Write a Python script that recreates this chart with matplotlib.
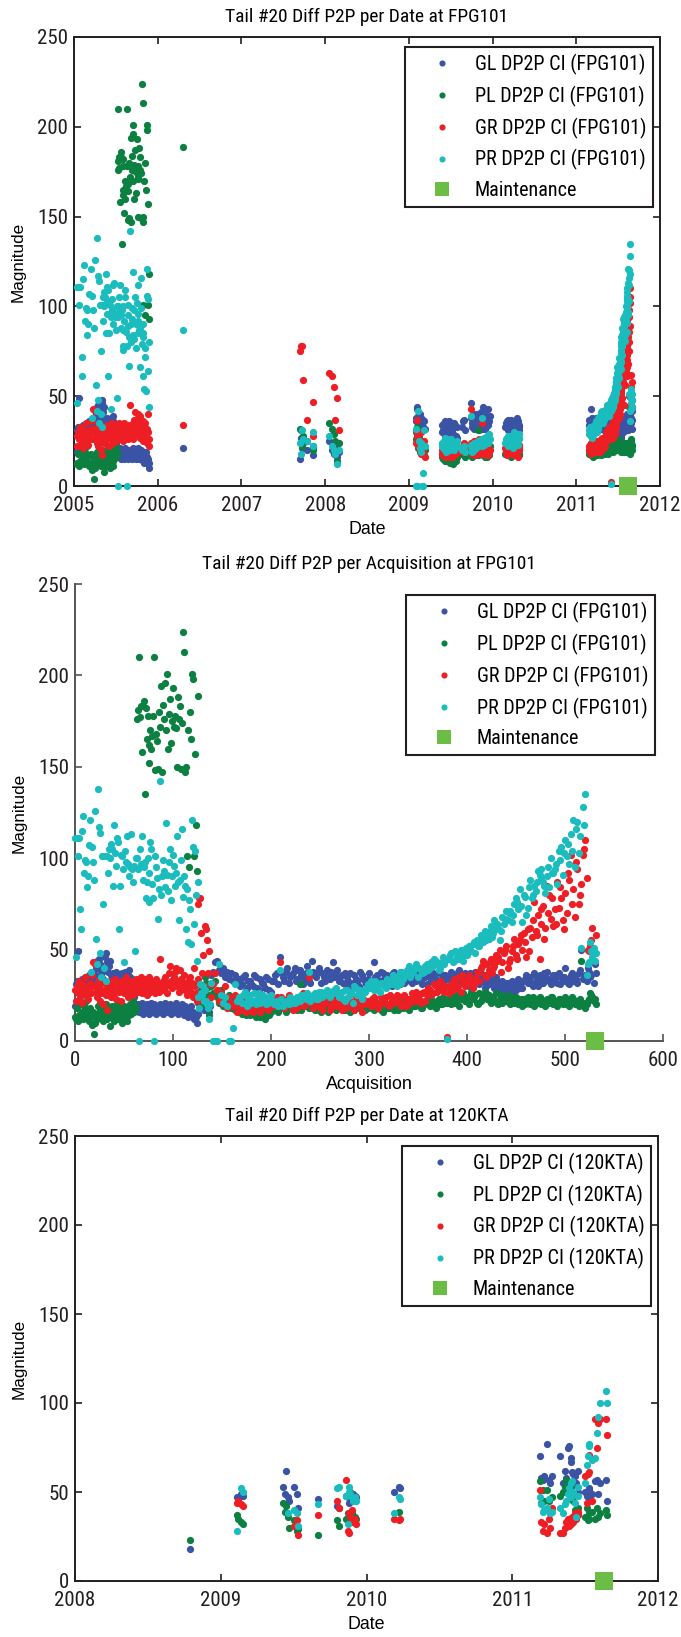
import os
import numpy as np
import matplotlib
matplotlib.use("Agg")
import matplotlib.pyplot as plt
from matplotlib import font_manager
from matplotlib.font_manager import FontProperties
from matplotlib.textpath import TextPath

nan = np.nan

# ---- FPG101: one row per acquisition (acquisition no., decimal date, magnitudes)
fpg_acq = [
    0, 1, 2, 3, 4, 5, 6, 7, 8, 9, 10, 11, 12, 13, 14, 15, 16, 17, 18, 19,
    20, 21, 22, 23, 24, 25, 26, 27, 28, 29, 30, 31, 32, 33, 34, 35, 36, 37, 38, 39,
    40, 41, 42, 43, 44, 45, 46, 47, 48, 49, 50, 51, 52, 53, 54, 55, 56, 57, 58, 59,
    60, 61, 62, 63, 64, 65, 66, 67, 68, 69, 70, 71, 72, 73, 74, 75, 76, 77, 78, 79,
    80, 81, 82, 83, 84, 85, 86, 87, 88, 89, 90, 91, 92, 93, 94, 95, 96, 97, 98, 99,
    100, 101, 102, 103, 104, 105, 106, 107, 108, 109, 110, 111, 112, 113, 114, 115, 116, 117, 118, 119,
    120, 121, 122, 123, 124,
    125,
    126, 127, 128, 129, 130, 131, 132, 133, 134, 135, 136, 137, 138,
    139, 141, 143, 145, 147, 149, 151, 153, 155, 157, 159, 161, 163, 165,
    167, 170, 173, 176, 179, 182, 185, 188, 191, 194, 197, 200,
    203, 206, 209, 212, 215, 218, 221, 224, 227, 230, 233, 236, 239, 242, 245, 248, 251, 254, 257, 260, 263, 266,
    269, 272, 275, 278, 281, 284, 287, 290, 293, 296,
    299, 302, 305, 308, 311, 314, 317, 320, 323, 326, 329, 332, 335, 338, 341, 344, 347, 350, 353, 356,
    359, 362, 365, 368, 371, 374, 377, 380,
    382, 384, 386, 388, 390, 392, 394, 396, 398, 400, 402, 404, 406, 408, 410, 412, 414, 416, 418, 420,
    422, 424, 426, 428, 430, 432, 434, 436, 438, 440, 442, 444, 446, 448, 450, 452, 454, 456, 458, 460,
    462, 464, 466, 468, 470, 472, 474, 476, 478, 480, 482, 484, 486, 488, 490, 492, 494, 496, 498, 500,
    502, 504, 506, 508, 510, 512, 514, 516, 518, 520, 522, 524, 526, 528, 530, 532,
    # interleaved acquisitions
    168, 171, 174, 177, 180, 183, 186, 189, 192, 195, 198, 201,
    204, 207, 210, 213, 216, 219, 222, 225, 228, 231, 234, 237, 240, 243, 246, 249, 252, 255, 258, 261, 264, 267,
    270, 273, 276, 279, 282, 285, 288, 291, 294, 297,
    300, 303, 306, 309, 312, 315, 318, 321, 324, 327, 330, 333, 336, 339, 342, 345, 348, 351, 354, 357,
    360, 363, 366, 369, 372, 375, 378,
    383, 387, 391, 395, 399, 403, 407, 411, 415, 419, 423, 427, 431, 435, 439, 443, 447, 451, 455, 459,
    463, 467, 471, 475, 479, 483, 487, 491, 495, 499, 503, 507, 511, 515, 519, 523, 527, 531,
]

fpg_date = [
    2005.03, 2005.04, 2005.05, 2005.06, 2005.07, 2005.09, 2005.10, 2005.11, 2005.12, 2005.13,
    2005.14, 2005.15, 2005.16, 2005.17, 2005.18, 2005.20, 2005.21, 2005.22, 2005.23, 2005.24,
    2005.25, 2005.26, 2005.27, 2005.28, 2005.29, 2005.29, 2005.30, 2005.30, 2005.31, 2005.32,
    2005.32, 2005.33, 2005.33, 2005.34, 2005.35, 2005.35, 2005.36, 2005.36, 2005.37, 2005.38,
    2005.38, 2005.39, 2005.39, 2005.40, 2005.41, 2005.41, 2005.42, 2005.42, 2005.43, 2005.44,
    2005.44, 2005.45, 2005.45, 2005.46, 2005.47, 2005.47, 2005.48, 2005.48, 2005.49, 2005.50,
    2005.50, 2005.51, 2005.51,
    2005.52, 2005.53, 2005.53, 2005.54, 2005.54, 2005.55, 2005.56, 2005.56, 2005.57, 2005.58,
    2005.58, 2005.59, 2005.59, 2005.60, 2005.61, 2005.61, 2005.62, 2005.63, 2005.63, 2005.64,
    2005.64, 2005.65, 2005.66, 2005.66, 2005.67, 2005.68, 2005.68, 2005.69, 2005.69, 2005.70,
    2005.71, 2005.71, 2005.72, 2005.72, 2005.73, 2005.74, 2005.74, 2005.75, 2005.76, 2005.76,
    2005.77, 2005.77, 2005.78, 2005.79, 2005.79, 2005.80, 2005.80, 2005.81, 2005.82, 2005.82,
    2005.83, 2005.83, 2005.84, 2005.85, 2005.85, 2005.86, 2005.87, 2005.87, 2005.88, 2005.88,
    2005.89, 2005.90,
    2006.30,
    2007.70, 2007.71, 2007.72, 2007.73, 2007.78, 2007.85, 2007.86, 2008.05, 2008.08, 2008.10,
    2008.12, 2008.14, 2008.16,
    2009.08, 2009.09, 2009.10, 2009.10, 2009.11, 2009.12, 2009.13, 2009.14, 2009.15, 2009.16,
    2009.17, 2009.17, 2009.18, 2009.19,
    2009.40, 2009.41, 2009.43, 2009.44, 2009.46, 2009.47, 2009.49, 2009.50, 2009.52, 2009.53,
    2009.55, 2009.57,
    2009.64, 2009.66, 2009.74, 2009.75, 2009.76, 2009.78, 2009.79, 2009.80, 2009.82, 2009.83,
    2009.84, 2009.86, 2009.87, 2009.88, 2009.89, 2009.90, 2009.91, 2009.92, 2009.93, 2009.94,
    2009.95, 2009.96,
    2010.15, 2010.17, 2010.19, 2010.20, 2010.22, 2010.24, 2010.26, 2010.28, 2010.30, 2010.32,
    2011.15, 2011.16, 2011.17, 2011.18, 2011.19, 2011.20, 2011.21, 2011.22, 2011.23, 2011.24,
    2011.25, 2011.26, 2011.27, 2011.28, 2011.29, 2011.30, 2011.31, 2011.32, 2011.33, 2011.34,
    2011.35, 2011.36, 2011.37, 2011.38, 2011.39, 2011.40, 2011.41, 2011.42,
    2011.42, 2011.42, 2011.43, 2011.43, 2011.43, 2011.44, 2011.44, 2011.44, 2011.45, 2011.45,
    2011.45, 2011.46, 2011.46, 2011.46, 2011.46, 2011.47, 2011.47, 2011.47, 2011.48, 2011.48,
    2011.48, 2011.49, 2011.49, 2011.49, 2011.50, 2011.50, 2011.50, 2011.51, 2011.51, 2011.51,
    2011.52, 2011.52, 2011.52, 2011.53, 2011.53, 2011.53, 2011.54, 2011.54, 2011.54, 2011.54,
    2011.55, 2011.55, 2011.55, 2011.56, 2011.56, 2011.56, 2011.57, 2011.57, 2011.57, 2011.58,
    2011.58, 2011.58, 2011.59, 2011.59, 2011.59, 2011.60, 2011.60, 2011.60, 2011.61, 2011.61,
    2011.61, 2011.62, 2011.62, 2011.62, 2011.62, 2011.63, 2011.63, 2011.63, 2011.64, 2011.64,
    2011.64, 2011.65, 2011.65, 2011.65, 2011.66, 2011.66,
    # interleaved acquisitions
    2009.40, 2009.42, 2009.43, 2009.45, 2009.46, 2009.48, 2009.49, 2009.51, 2009.52, 2009.54,
    2009.56, 2009.58,
    2009.65, 2009.67, 2009.74, 2009.75, 2009.77, 2009.78, 2009.79, 2009.81, 2009.82, 2009.83,
    2009.85, 2009.86, 2009.87, 2009.88, 2009.89, 2009.90, 2009.91, 2009.92, 2009.93, 2009.94,
    2009.95, 2009.97,
    2010.16, 2010.18, 2010.19, 2010.21, 2010.23, 2010.25, 2010.27, 2010.29, 2010.31, 2010.32,
    2011.15, 2011.16, 2011.17, 2011.18, 2011.19, 2011.20, 2011.21, 2011.22, 2011.23, 2011.24,
    2011.25, 2011.26, 2011.27, 2011.28, 2011.29, 2011.30, 2011.31, 2011.32, 2011.33, 2011.34,
    2011.35, 2011.36, 2011.37, 2011.38, 2011.39, 2011.40, 2011.41,
    2011.42, 2011.43, 2011.44, 2011.44, 2011.45, 2011.46, 2011.46, 2011.47, 2011.47, 2011.48,
    2011.49, 2011.49, 2011.50, 2011.51, 2011.51, 2011.52, 2011.53, 2011.53, 2011.54, 2011.54,
    2011.55, 2011.56, 2011.56, 2011.57, 2011.58, 2011.58, 2011.59, 2011.59, 2011.60, 2011.61,
    2011.61, 2011.62, 2011.63, 2011.63, 2011.64, 2011.64, 2011.65, 2011.66,
]

fpg_gl = [
    19, 31, 33, 49, 30, 32, 28, 34, 31, 33, 29, 35, 32, 30, 36, 33, 31, 34, 38, 32,
    36, 40, 44, 41, 45, 39, 42, 36, 38, 34, 40, 46, 48, 43, 38, 41, 44, 36, 34, 37,
    33, 35, 38, 32, 36, 34, 35, 33, 37, 31, 36, 38, 34, 33, 36, 39, 35, 32, 34, 28,
    24, 20, 18,
    18, 20, 16, 19, 17, 21, 15, 18, 19, 16, 20, 17, 18, 15, 19, 21, 16, 18, 20, 17,
    15, 19, 18, 16, 20, 17, 19, 15, 18, 21, 16, 19, 17, 18, 20, 15, 17, 19, 16, 18,
    21, 17, 15, 19, 18, 16, 20, 17, 14, 19, 16, 18, 13, 17, 15, 19, 14, 16, 12, 15,
    13, 10,
    21,
    15, 27, 21, 24, 20, 21, 17, 25, 20, 18, 22, 16, 19,
    36, 38, 43, 44, 39, 37, 40, 35, 38, 34, 37, 33, 36, 32,
    34, 31, 36, 29, 33, 30, 35, 28, 32, 29, 34, 27,
    33, 37, 46, 35, 38, 32, 36, 40, 34, 39, 31, 37, 33, 44, 36, 38, 32, 35, 39, 34, 43, 36,
    33, 36, 31, 35, 37, 32, 34, 30, 36, 33,
    34, 31, 43, 36, 33, 37, 32, 35, 30, 38, 34, 31, 36, 33, 37, 32, 35, 38, 33, 36,
    31, 35, 37, 34, 32, 36, 33, 35,
    34, 38, 31, 36, 33, 39, 35, 32, 37, 34, 30, 36, 33, 38, 35, 31, 37, 33, 29, 34,
    31, 36, 32, 29, 35, 31, 28, 33, 30, 27, 32, 29, 33, 30, 28, 34, 31, 29, 33, 36,
    32, 35, 31, 37, 33, 30, 36, 34, 32, 35, 38, 33, 31, 36, 34, 32, 37, 35, 33, 40,
    34, 31, 36, 33, 35, 32, 37, 50, 34, 36, 33, 38, 35, 44, 32, 37,
    # interleaved acquisitions
    30, 35, 28, 33, 31, 36, 29, 34, 31, 35, 28, 33,
    36, 31, 38, 33, 40, 35, 37, 33, 39, 36, 34, 41, 32, 38, 35, 40, 37, 33, 36, 38, 35, 39,
    35, 32, 37, 33, 30, 36, 33, 38, 34, 31,
    37, 33, 35, 31, 38, 34, 36, 32, 37, 33, 35, 38, 32, 36, 34, 39, 33, 36, 31, 35,
    38, 33, 36, 32, 37, 34, 36,
    36, 33, 38, 34, 31, 37, 35, 32, 36, 30, 34, 31, 33, 29, 32, 30, 27, 31, 29, 34,
    33, 30, 35, 32, 37, 34, 33, 36, 31, 35, 32, 37, 34, 39, 35, 40, 36, 42,
]

fpg_pl = [
    13, 12, 18, 11, 14, 20, 13, 16, 12, 19, 15, 22, 14, 17, 11, 18, 13, 9, 16, 4,
    10, 15, 12, 19, 14, 17, 21, 13, 16, 11, 18, 14, 20, 12, 15, 17, 8, 13, 19, 15,
    11, 17, 14, 20, 12, 16, 13, 18, 10, 15, 19, 13, 16, 11, 17, 14, 20, 15, 18, 22,
    16, 19, 18,
    176, 181, 210, 177, 183, 158, 183, 186, 135, 182, 165, 178, 162, 152, 170, 160, 167, 178, 210, 148,
    168, 164, 149, 180, 172, 194, 147, 184, 176, 196, 170, 201, 160, 179, 187, 163, 175, 193, 172, 178,
    171, 150, 188, 176, 183, 149, 174, 224, 213, 147, 150, 101, 170, 95, 180, 165, 201, 198, 101, 157,
    118, 93,
    189,
    32, 31, 22, 28, 25, 22, 20, 35, 32, 29, 25, 14, 24,
    30, 26, 33, 24, 21, 28, 19, 23, 20, 25, 18, 22, 17, 20,
    18, 15, 20, 16, 14, 19, 13, 17, 15, 12, 18, 16,
    18, 17, 20, 19, 16, 21, 18, 22, 17, 31, 19, 24, 18, 21, 17, 20, 16, 22, 18, 19, 21, 17,
    18, 20, 17, 21, 16, 19, 22, 18, 20, 17,
    18, 20, 17, 21, 19, 16, 20, 18, 22, 17, 19, 21, 18, 20, 17, 22, 19, 21, 18, 20,
    22, 19, 21, 18, 23, 20, 22, 21,
    22, 20, 24, 21, 25, 19, 23, 26, 22, 24, 20, 27, 23, 25, 21, 26, 22, 24, 27, 23,
    25, 21, 24, 22, 26, 20, 23, 21, 24, 22, 25, 20, 23, 21, 24, 20, 22, 19, 23, 21,
    24, 20, 22, 19, 23, 21, 24, 20, 22, 19, 23, 21, 24, 20, 22, 19, 23, 21, 20, 24,
    22, 19, 21, 23, 20, 22, 19, 44, 21, 18, 20, 23, 26, 24, 22, 20,
    # interleaved acquisitions
    16, 19, 14, 17, 20, 15, 18, 13, 16, 19, 14, 18,
    20, 16, 18, 21, 17, 19, 22, 18, 20, 17, 21, 19, 23, 18, 20, 17, 21, 19, 16, 20, 18, 22,
    19, 17, 21, 18, 20, 17, 19, 21, 18, 20,
    20, 18, 22, 19, 17, 21, 18, 20, 19, 22, 17, 20, 22, 18, 21, 19, 23, 20, 18, 22,
    20, 23, 19, 22, 20, 24, 21,
    24, 21, 23, 26, 22, 25, 24, 20, 23, 26, 22, 24, 21, 25, 23, 22, 24, 21, 23, 20,
    22, 24, 21, 23, 20, 22, 24, 21, 23, 20, 22, 24, 21, 23, 20, 22, 25, 23,
]

fpg_gr = [
    28, 22, 30, 26, 33, 24, 29, 21, 31, 27, 35, 25, 30, 23, 28, 32, 26, 36, 43, 30,
    42, 27, 24, 33, 29, 22, 31, 26, 34, 20, 28, 32, 25, 17, 30, 27, 33, 24, 29, 31,
    26, 34, 23, 28, 32, 27, 30, 22, 33, 29, 26, 31, 35, 28, 24, 30, 27, 33, 29, 25,
    31, 28, 34,
    30, 27, 33, 29, 35, 26, 31, 28, 34, 30, 25, 32, 29, 35, 27, 31, 33, 28, 30, 26,
    34, 29, 32, 27, 45, 31, 28, 33, 29, 35, 30, 26, 32, 37, 41, 33, 29, 31, 35, 38,
    40, 30, 33, 27, 39, 34, 29, 32, 36, 28, 31, 25, 33, 29, 35, 27, 32, 24, 40, 30,
    26, 22,
    34,
    75, 78, 78, 59, 37, 47, 28, 63, 61, 55, 37, 49, 31,
    24, 31, 37, 28, 22, 26, 20, 30, 18, 24, 21, 19, 25, 16,
    20, 17, 22, 18, 21, 16, 19, 23, 18, 20, 17, 22,
    21, 24, 43, 22, 20, 25, 19, 23, 18, 20, 26, 22, 35, 21, 19, 24, 18, 20, 23, 17, 22, 19,
    21, 17, 23, 19, 22, 18, 24, 20, 16, 21,
    22, 19, 24, 21, 20, 23, 24, 19, 22, 21, 25, 24, 20, 19, 23, 26, 22, 24, 21, 27,
    25, 28, 26, 30, 29, 31, 27, 2,
    26, 31, 28, 32, 29, 35, 27, 33, 30, 33, 36, 31, 29, 34, 38, 33, 40, 44, 36, 42,
    39, 45, 37, 41, 47, 46, 50, 43, 48, 52, 40, 45, 49, 56, 47, 53, 55, 50, 59, 46,
    61, 62, 57, 76, 60, 69, 45, 64, 74, 62, 85, 80, 67, 63, 72, 87, 73, 78, 66, 81,
    70, 88, 102, 83, 68, 94, 75, 86, 102, 110, 89, 49, 52, 62, 44, 58,
    # interleaved acquisitions
    18, 21, 16, 19, 17, 22, 20, 16, 21, 18, 23, 19,
    19, 22, 24, 18, 23, 21, 17, 22, 20, 24, 19, 21, 23, 18, 22, 20, 17, 21, 24, 19, 23, 20,
    19, 22, 18, 23, 20, 17, 22, 19, 23, 20,
    20, 23, 21, 18, 24, 22, 20, 25, 21, 23, 22, 19, 25, 23, 21, 24, 27, 23, 26, 22,
    29, 25, 31, 27, 33, 28, 30,
    29, 34, 30, 36, 32, 34, 31, 37, 41, 35, 43, 40, 44, 38, 50, 43, 52, 45, 58, 54,
    49, 66, 58, 72, 56, 70, 78, 64, 84, 61, 92, 75, 98, 80, 105, 50, 55, 48,
]

fpg_pr = [
    111, 46, 111, 101, 111, 72, 61, 115, 123, 92, 99, 98, 84, 90, 107, 121, 38, 106, 98, 88,
    126, 56, 42, 138, 117, 48, 114, 35, 101, 75, 40, 101, 33, 101, 92, 105, 100, 108, 105, 85,
    118, 103, 96, 111, 109, 61, 85, 102, 101, 94, 43, 104, 98, 112, 97, 90, 95, 113, 94, 87,
    96, 49, 100,
    100, 94, 0, 105, 97, 112, 88, 95, 98, 78, 87, 100, 76, 92, 109, 105, 86, 78, 0, 101,
    95, 89, 67, 83, 142, 80, 90, 99, 93, 84, 119, 91, 82, 98, 105, 77, 90, 102, 96, 85,
    92, 112, 87, 66, 88, 99, 116, 79, 90, 85, 61, 83, 54, 77, 72, 53, 121, 106, 64, 104,
    80, 44,
    87,
    24, 18, 31, 26, 25, 30, 22, 28, 22, 20, 18, 12, 20,
    32, 0, 0, 0, 42, 25, 21, 24, 19, 0, 0, 7, 31, 22,
    24, 21, 27, 19, 25, 22, 20, 26, 22, 24, 21, 25,
    20, 22, 39, 19, 21, 20, 23, 21, 24, 22, 25, 23, 38, 24, 26, 23, 27, 25, 28, 24, 26, 29,
    24, 27, 22, 28, 25, 21, 29, 26, 23, 27,
    31, 33, 28, 30, 27, 32, 29, 33, 31, 35, 30, 38, 34, 36, 41, 37, 40, 35, 39, 38,
    42, 40, 41, 44, 39, 43, 42, 1,
    45, 48, 43, 49, 46, 45, 50, 44, 48, 47, 52, 49, 53, 48, 55, 52, 58, 54, 60, 58,
    56, 63, 57, 66, 61, 62, 55, 68, 64, 71, 66, 71, 65, 75, 78, 72, 83, 65, 80, 69,
    73, 88, 78, 85, 82, 93, 91, 94, 87, 81, 90, 84, 100, 92, 94, 86, 104, 106, 91, 110,
    101, 97, 113, 121, 95, 120, 103, 51, 128, 135, 36, 43, 54, 46, 51, 48,
    # interleaved acquisitions
    22, 25, 20, 23, 21, 26, 23, 21, 25, 20, 24, 22,
    21, 19, 23, 20, 22, 24, 21, 23, 22, 25, 24, 26, 22, 25, 23, 27, 24, 26, 25, 27, 28, 26,
    26, 23, 28, 24, 27, 30, 25, 28, 26, 29,
    29, 31, 33, 28, 32, 30, 34, 31, 36, 33, 35, 32, 37, 39, 35, 38, 42, 40, 37, 41,
    39, 43, 45, 42, 40, 46, 44,
    47, 44, 48, 46, 51, 50, 54, 52, 57, 55, 60, 59, 64, 60, 67, 70, 69, 76, 74, 79,
    84, 80, 87, 89, 85, 95, 92, 97, 99, 103, 108, 104, 116, 112, 118, 42, 49, 44,
]

# ---- 120KTA: one row per acquisition
kta_date = [
    2008.79, 2009.11, 2009.12, 2009.14, 2009.15, 2009.43, 2009.44, 2009.45, 2009.46, 2009.47,
    2009.50, 2009.52, 2009.53, 2009.67, 2009.80, 2009.81, 2009.86, 2009.87, 2009.88, 2009.88,
    2009.89, 2009.90, 2009.91, 2009.92, 2009.93, 2010.19, 2010.22, 2010.23, 2011.19, 2011.20,
    2011.21, 2011.22, 2011.24, 2011.25, 2011.26, 2011.27, 2011.33, 2011.35, 2011.36, 2011.37,
    2011.38, 2011.39, 2011.40, 2011.40, 2011.41, 2011.42, 2011.43, 2011.44, 2011.45, 2011.45,
    2011.50, 2011.51, 2011.52, 2011.53, 2011.53, 2011.55, 2011.57, 2011.58, 2011.59, 2011.60,
    2011.64, 2011.65,
]
kta_gl = [
    18, 47, 46, 49, 48, 53, 49, 62, 47, 45, 53, 49, 41, 46, 42, 41, 48, 47, 49, 44,
    50, 46, 49, 48, 47, 50, 53, 52, 70, 58, 57, 59, 77, 57, 55, 59, 70, 55, 62, 58,
    75, 76, 67, 69, 61, 60, 59, 55, 62, 50, 50, 48, 47, 52, 51, 49, 56, 57, 49, 55,
    57, 45,
]
kta_pl = [
    23, 37, 35, 33, 32, 44, 39, 42, 36, 30, 34, 28, 29, 26, 34, 31, 35, 38, 33, 37,
    36, 38, 34, 36, 35, nan, 39, nan, 56, 44, 51, 45, 51, 45, 38, 47, 48, 50, 53, 57,
    55, 51, 49, 53, 48, 45, 40, 37, 41, 38, 36, 41, 34, 35, 38, 39, 35, 41, 36, 38,
    40, 37,
]
kta_gr = [
    nan, 44, 45, 43, 42, nan, nan, nan, nan, nan, 31, 34, 26, 37, 45, 41, 57, 28, 27, 38,
    36, 40, 33, 35, 32, 35, 34, 35, 51, 33, 28, 32, 27, 35, 30, 41, 27, 27, 30, 33,
    35, 31, 34, 32, 36, 33, 38, 35, 39, 37, 59, 44, 60, 71, 61, 45, 91, 75, 89, 91,
    91, 82,
]
kta_pr = [
    nan, 28, nan, 52, 50, nan, nan, nan, 38, nan, 40, 38, 31, 43, 52, 53, 48, 32, 53, 50,
    49, 47, 45, 47, 45, 38, 47, 46, 47, 43, 39, 40, 41, 46, 38, 39, 41, 38, 43, 45,
    49, 52, 47, 55, 56, 50, 44, 36, 53, 48, 55, 65, 70, 77, 76, 68, 69, 83, 92, 100,
    107, 100,
]

series_names = ["GL DP2P CI", "PL DP2P CI", "GR DP2P CI", "PR DP2P CI"]
series_colors = ["#3a53a4", "#0b8040", "#ed1f24", "#1bbcbe"]
maint_color = "#6bbd45"
maint_fpg_date = 2011.62
maint_fpg_acq = 531
maint_kta_date = 2011.63


# ---- fonts: a condensed face for ticks, titles and legends, a plain one for axis labels
def pick_narrow():
    files = [f.fname for f in font_manager.fontManager.ttflist]
    prefs = ["liberationsansnarrow-regular", "notosans-condensed.", "notosans-condensedregular",
             "robotocondensed-regular", "opensans-condensed", "dejavusanscondensed."]
    for p in prefs:
        for fn in files:
            if p in os.path.basename(fn).lower():
                return FontProperties(fname=fn)
    bad = ("bold", "italic", "oblique", "light", "thin", "black", "medium", "semi", "extra")
    for fn in files:
        b = os.path.basename(fn).lower()
        if ("narrow" in b or "condensed" in b) and not any(k in b for k in bad):
            return FontProperties(fname=fn)
    return FontProperties(family="Liberation Sans")


def sized(fp, text, target_px):
    # font size (pt) that gives `text` the width it has in the reference
    w = TextPath((0, 0), text, size=10, prop=fp).get_extents().width * 100 / 72
    out = fp.copy()
    out.set_size(10 * target_px / w)
    return out


narrow = pick_narrow()
plain = FontProperties(family="Liberation Sans")
tick_fp = sized(narrow, "2009", 39)
leg_fp = sized(narrow, "GL DP2P CI (FPG101)", 168)
title_fp = sized(narrow, "Tail #20 Diff P2P per Date at FPG101", 278)
ylab_fp = sized(plain, "Magnitude", 78)
xlab_fp = sized(plain, "Acquisition", 85)

fig = plt.figure(figsize=(6.81, 16.37), dpi=100)
W, H = 681, 1637
ax1 = fig.add_axes([74 / W, 1 - 486 / H, 586 / W, 449 / H])
ax2 = fig.add_axes([75 / W, 1 - 1041 / H, 588 / W, 457 / H])
ax3 = fig.add_axes([75 / W, 1 - 1581 / H, 583 / W, 445 / H])

fs = leg_fp.get_size_in_points() * 100 / 72


def draw(ax, x, series, tag, maint_x, anchor, boxed):
    for vals, name, col in zip(series, series_names, series_colors):
        ax.plot(x, vals, "o", ms=5.2, mew=0, color=col, label=f"{name} ({tag})",
                clip_on=False, zorder=3)
    ax.plot([maint_x], [0], "s", ms=12.5, mew=0, color=maint_color,
            label="Maintenance", clip_on=False, zorder=4)
    ax.set_ylim(0, 250)
    ax.set_yticks(range(0, 251, 50))
    spine_col = "#231f20" if boxed else "#555555"
    for side, sp in ax.spines.items():
        sp.set_linewidth(1.4)
        sp.set_color(spine_col)
        if not boxed and side in ("top", "right"):
            sp.set_visible(False)
    ax.tick_params(direction="in", length=5, width=1.2, top=boxed, right=boxed,
                   colors=spine_col, labelcolor="#231f20")
    ax.tick_params(axis="y", pad=4.3)
    ax.tick_params(axis="x", pad=7.5)
    ax.set_ylabel("Magnitude", fontproperties=ylab_fp, labelpad=8)
    leg = ax.legend(loc="upper right", bbox_to_anchor=anchor, borderaxespad=0,
                    fancybox=False, edgecolor="#231f20", framealpha=1, prop=leg_fp,
                    handlelength=62 / fs, handletextpad=1.5 / fs, borderpad=6.7 / fs,
                    labelspacing=0.54, markerscale=0.85)
    leg.get_frame().set_linewidth(1.5)


def finish(ax, xlabel, title):
    ax.set_xlabel(xlabel, fontproperties=xlab_fp, labelpad=4)
    ax.set_title(title, fontproperties=title_fp, pad=10.5)
    for lbl in ax.get_xticklabels() + ax.get_yticklabels():
        lbl.set_fontproperties(tick_fp)


fpg_series = [fpg_gl, fpg_pl, fpg_gr, fpg_pr]
kta_series = [kta_gl, kta_pl, kta_gr, kta_pr]

draw(ax1, fpg_date, fpg_series, "FPG101", maint_fpg_date, (0.988, 0.978), True)
ax1.set_xlim(2005, 2012)
ax1.set_xticks(range(2005, 2013))
finish(ax1, "Date", "Tail #20 Diff P2P per Date at FPG101")

draw(ax2, fpg_acq, fpg_series, "FPG101", maint_fpg_acq, (0.986, 0.976), False)
ax2.set_xlim(0, 600)
ax2.set_xticks(range(0, 601, 100))
finish(ax2, "Acquisition", "Tail #20 Diff P2P per Acquisition at FPG101")

draw(ax3, kta_date, kta_series, "120KTA", maint_kta_date, (0.988, 0.978), True)
ax3.set_xlim(2008, 2012)
ax3.set_xticks(range(2008, 2013))
finish(ax3, "Date", "Tail #20 Diff P2P per Date at 120KTA")

fig.savefig("out.png", dpi=100)
